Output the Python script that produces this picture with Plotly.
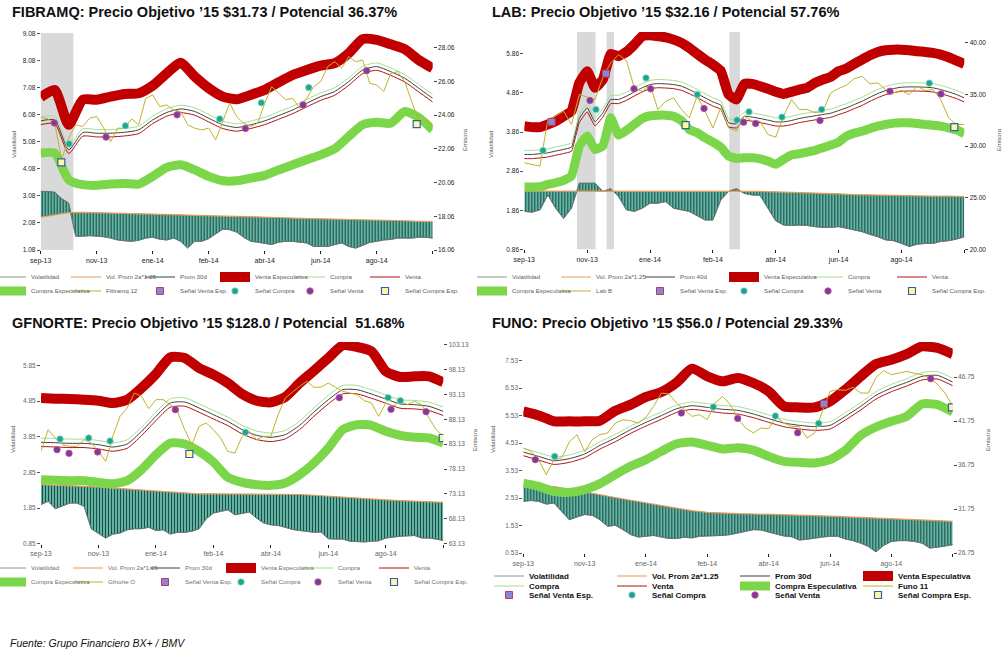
import plotly.graph_objects as go

W, H = 1007, 651
FONT = "Liberation Sans, Arial, sans-serif"

# ---------------- common x grid (weeks from sep-13) ----------------
semanas = list(range(57))
quincenas = list(range(0, 57, 2))
ticks_x = [0, 8, 16, 24, 32, 40, 48, 56]
etiquetas_x = ["sep-13", "nov-13", "ene-14", "feb-14", "abr-14", "jun-14", "ago-14", ""]

# ---------------- FIBRAMQ ----------------
fibramq_precio = [23.91, 23.83, 23.57, 21.41, 22.69, 23.48, 23.38, 23.87, 23.97, 23.28,
                  22.49, 23.28, 23.28, 23.83, 23.48, 25.05, 25.25, 24.56, 24.66, 24.36,
                  24.27, 23.48, 23.28, 23.18, 23.28, 22.59, 23.67, 24.76, 23.97, 23.57,
                  23.38, 23.57, 24.76, 25.74, 25.35, 24.96, 25.05, 24.46, 25.05, 25.74,
                  26.04, 26.93, 27.22, 26.83, 27.52, 27.22, 27.32, 25.94, 25.84, 25.45,
                  26.53, 26.63, 26.04, 24.86, 23.67, 23.77, 23.38]
fibramq_vol = [3.24, 3.24, 3.21, 2.97, 2.81, 1.59, 1.59, 1.61, 1.59, 1.57,
               1.52, 1.45, 1.42, 1.40, 1.44, 1.52, 1.55, 1.48, 1.45, 1.52,
               1.40, 1.15, 1.40, 1.40, 1.50, 1.67, 1.85, 1.83, 1.74, 1.55,
               1.40, 1.37, 1.33, 1.28, 1.37, 1.40, 1.40, 1.37, 1.34, 1.21,
               1.21, 1.21, 1.28, 1.34, 1.21, 1.15, 1.25, 1.36, 1.40, 1.45,
               1.47, 1.52, 1.52, 1.52, 1.55, 1.55, 1.52]
fibramq_vol_prom = [2.29, 2.37, 2.46, 2.47, 2.46, 2.45, 2.43, 2.42, 2.40, 2.39, 2.38, 2.36, 2.35, 2.33, 2.32,
                    2.30, 2.29, 2.28, 2.26, 2.25, 2.23, 2.22, 2.21, 2.20, 2.18, 2.17, 2.16, 2.14, 2.13]
fibramq_venta_esp = [25.11, 25.55, 23.48, 24.96, 24.96, 25.15, 25.31, 25.35, 25.80, 26.53, 27.16, 26.34, 25.65, 25.15, 24.99,
                     25.25, 25.55, 26.00, 26.43, 26.73, 26.99, 27.13, 27.72, 28.56, 28.51, 28.25, 27.97, 27.32, 26.83]
fibramq_compra_esp = [21.80, 21.80, 20.22, 19.93, 19.89, 19.97, 20.00, 19.97, 20.42, 20.95, 21.11, 20.81, 20.42, 20.16, 20.16,
                      20.32, 20.48, 20.81, 21.11, 21.41, 21.70, 22.06, 22.79, 23.48, 23.63, 23.57, 24.27, 23.91, 23.18]
fibramq_prom = [23.71, 23.77, 22.00, 23.02, 22.98, 22.98, 23.04, 23.18, 23.77, 24.21, 24.42, 24.27, 23.87, 23.48, 23.32,
                23.48, 23.71, 24.03, 24.36, 24.76, 25.15, 25.45, 26.04, 26.73, 26.93, 26.63, 26.24, 25.65, 25.05]
fibramq_compra = [23.93, 23.99, 22.22, 23.24, 23.20, 23.20, 23.26, 23.40, 23.99, 24.43, 24.64, 24.49, 24.09, 23.70, 23.54,
                  23.70, 23.93, 24.25, 24.58, 24.98, 25.37, 25.67, 26.26, 26.95, 27.15, 26.85, 26.46, 25.87, 25.27]
fibramq_venta = [23.49, 23.55, 21.78, 22.80, 22.76, 22.76, 22.82, 22.96, 23.55, 23.99, 24.20, 24.05, 23.65, 23.26, 23.10,
                 23.26, 23.49, 23.81, 24.14, 24.54, 24.93, 25.23, 25.82, 26.51, 26.71, 26.41, 26.02, 25.43, 24.83]
fibramq_senal_venta_sem = [1.95, 9.33, 19.48, 29.24, 37.48, 46.57]
fibramq_senal_venta_val = [23.59, 22.75, 24.07, 23.26, 24.66, 26.69]
fibramq_senal_compra_sem = [4.05, 12.1, 25.57, 31.52, 38.29]
fibramq_senal_compra_val = [22.35, 23.42, 23.83, 24.78, 25.69]
fibramq_senal_cesp_sem = [2.95, 53.71]
fibramq_senal_cesp_val = [21.25, 23.52]
fibramq_senal_vesp_sem = []
fibramq_senal_vesp_val = []
fibramq_periodos = [(0, 4.67)]

# ---------------- LAB ----------------
lab_precio = [28.39, 28.23, 28.06, 32.58, 32.90, 33.39, 32.10, 35.00, 34.74, 34.52,
              36.68, 38.06, 38.87, 38.29, 35.65, 35.32, 35.97, 33.55, 34.35, 34.68,
              33.55, 32.74, 34.84, 33.39, 31.77, 33.71, 31.77, 31.45, 32.90, 32.42,
              32.42, 31.13, 30.87, 32.90, 34.52, 33.55, 33.55, 33.23, 33.39, 35.16,
              35.58, 35.90, 36.55, 36.77, 36.03, 36.13, 35.48, 35.16, 35.39, 35.00,
              35.81, 35.39, 35.48, 34.52, 32.74, 32.10, 32.10]
lab_vol = [1.83, 1.81, 1.87, 2.25, 1.91, 1.65, 1.91, 2.55, 2.55, 2.55,
           2.34, 2.41, 2.21, 1.87, 1.83, 1.91, 2.04, 2.04, 2.08, 1.91,
           1.87, 1.83, 1.72, 1.61, 1.61, 2.12, 2.34, 2.41, 2.29, 2.25,
           2.24, 1.91, 1.59, 1.48, 1.47, 1.48, 1.47, 1.44, 1.42, 1.42,
           1.44, 1.40, 1.35, 1.31, 1.24, 1.18, 1.10, 1.08, 1.01, 0.93,
           0.99, 1.01, 1.01, 1.06, 1.08, 1.12, 1.18]
lab_vol_prom = [2.35, 2.35, 2.35, 2.35, 2.35, 2.35, 2.35, 2.35, 2.34, 2.34, 2.34, 2.34, 2.34, 2.34, 2.34,
                2.34, 2.33, 2.32, 2.31, 2.30, 2.28, 2.26, 2.25, 2.24, 2.23, 2.23, 2.22, 2.22, 2.21]
lab_venta_esp = [31.94, 31.84, 31.84, 32.10, 32.42, 32.90, 33.39, 36.13, 37.26, 35.65,
                 36.45, 38.94, 38.71, 39.13, 39.84, 40.65, 40.74, 40.65, 40.55, 40.32,
                 40.00, 39.52, 38.94, 38.39, 37.90, 37.32, 35.00, 34.52, 36.03, 36.03,
                 35.81, 35.55, 35.26, 35.06, 35.26, 35.48, 35.65, 36.13, 36.45, 36.71,
                 37.26, 37.52, 37.97, 38.39, 38.81, 39.13, 39.29, 39.35, 39.35, 39.29,
                 39.19, 39.13, 39.03, 38.87, 38.61, 38.29, 37.97]
lab_compra_esp = [26.03, 26.03, 26.06, 26.29, 26.45, 26.68, 27.10, 30.00, 30.97, 29.68,
                  30.00, 32.74, 31.06, 31.52, 32.10, 32.68, 32.94, 33.00, 33.00, 32.90,
                  32.48, 31.61, 31.29, 30.81, 30.39, 29.90, 29.03, 28.81, 28.87, 28.87,
                  28.77, 28.55, 28.23, 28.71, 29.13, 29.26, 29.42, 29.58, 29.84, 30.10,
                  30.39, 30.97, 31.26, 31.45, 31.71, 31.94, 32.10, 32.23, 32.26, 32.26,
                  32.19, 32.10, 32.03, 31.94, 31.77, 31.58, 31.19]
lab_prom = [29.19, 29.19, 29.26, 29.35, 29.52, 29.68, 29.90, 32.68, 33.71, 32.35,
            33.23, 34.52, 34.52, 34.84, 35.26, 35.65, 35.97, 36.06, 36.03, 35.97,
            35.81, 35.48, 35.10, 34.68, 34.29, 33.97, 32.26, 32.16, 32.90, 32.81,
            32.68, 32.52, 32.35, 32.35, 32.48, 32.68, 32.81, 32.94, 33.06, 33.19,
            33.45, 33.71, 34.03, 34.35, 34.74, 35.10, 35.39, 35.58, 35.71, 35.74,
            35.74, 35.71, 35.65, 35.48, 35.26, 35.00, 34.68]
lab_compra = [29.59, 29.59, 29.66, 29.75, 29.92, 30.08, 30.30, 33.08, 34.11, 32.75,
              33.63, 34.92, 34.92, 35.24, 35.66, 36.05, 36.37, 36.46, 36.43, 36.37,
              36.21, 35.88, 35.50, 35.08, 34.69, 34.37, 32.66, 32.56, 33.30, 33.21,
              33.08, 32.92, 32.75, 32.75, 32.88, 33.08, 33.21, 33.34, 33.46, 33.59,
              33.85, 34.11, 34.43, 34.75, 35.14, 35.50, 35.79, 35.98, 36.11, 36.14,
              36.14, 36.11, 36.05, 35.88, 35.66, 35.40, 35.08]
lab_venta = [28.79, 28.79, 28.86, 28.95, 29.12, 29.28, 29.50, 32.28, 33.31, 31.95,
             32.83, 34.12, 34.12, 34.44, 34.86, 35.25, 35.57, 35.66, 35.63, 35.57,
             35.41, 35.08, 34.70, 34.28, 33.89, 33.57, 31.86, 31.76, 32.50, 32.41,
             32.28, 32.12, 31.95, 31.95, 32.08, 32.28, 32.41, 32.54, 32.66, 32.79,
             33.05, 33.31, 33.63, 33.95, 34.34, 34.70, 34.99, 35.18, 35.31, 35.34,
             35.34, 35.31, 35.25, 35.08, 34.86, 34.60, 34.28]
lab_senal_compra_sem = [2.38, 9.12, 15.49, 22.02, 27.07, 28.60, 32.80, 37.84, 51.55]
lab_senal_compra_val = [29.58, 33.55, 36.61, 35.00, 32.52, 33.32, 32.81, 33.55, 36.10]
lab_senal_venta_sem = [8.36, 13.96, 16.08, 22.87, 27.92, 29.44, 37.63, 46.54, 53.03]
lab_senal_venta_val = [34.42, 35.55, 35.55, 33.65, 32.32, 32.19, 32.48, 35.32, 35.06]
lab_senal_vesp_sem = [3.48, 10.39]
lab_senal_vesp_val = [32.35, 37.03]
lab_senal_cesp_sem = [20.53, 54.73]
lab_senal_cesp_val = [32.03, 31.84]
lab_periodos = [(6.70, 9.08), (10.48, 11.41), (26.09, 27.45)]

# ---------------- GFNORTE ----------------
gfnorte_precio = [81.68, 86.04, 84.36, 83.02, 82.69, 82.69, 84.03, 83.36, 81.68, 79.67,
                  84.70, 88.72, 90.39, 93.40, 92.74, 90.26, 92.07, 92.07, 91.06, 89.72,
                  86.04, 83.02, 86.71, 87.38, 86.04, 84.36, 81.68, 81.35, 84.70, 85.70,
                  84.03, 84.70, 84.70, 89.05, 92.40, 93.61, 94.74, 95.75, 94.54, 94.61,
                  95.41, 94.54, 93.74, 93.40, 93.07, 91.86, 91.40, 88.72, 91.40, 90.73,
                  91.73, 91.06, 91.73, 91.06, 88.38, 86.04, 84.70]
gfnorte_vol = [1.95, 2.04, 1.83, 1.90, 1.99, 1.99, 1.90, 1.27, 1.15, 1.01,
               1.12, 1.15, 1.24, 1.27, 1.27, 1.31, 1.22, 1.24, 1.12, 1.17,
               1.17, 1.20, 1.27, 1.55, 1.71, 1.76, 1.80, 1.66, 1.70, 1.74,
               1.57, 1.43, 1.38, 1.36, 1.31, 1.25, 1.22, 1.20, 1.17, 1.18,
               0.99, 0.98, 0.98, 0.92, 0.91, 0.90, 0.92, 0.93, 1.01, 1.04,
               1.06, 1.07, 1.08, 1.01, 1.01, 0.98, 0.94]
gfnorte_vol_prom = [2.51, 2.50, 2.48, 2.46, 2.44, 2.41, 2.39, 2.36, 2.33, 2.29, 2.26, 2.25, 2.25, 2.25, 2.25,
                    2.25, 2.25, 2.24, 2.23, 2.21, 2.18, 2.16, 2.13, 2.10, 2.08, 2.06, 2.04, 2.03, 2.01]
gfnorte_venta_esp = [92.40, 92.27, 92.20, 92.07, 91.86, 91.40, 92.07, 94.41, 97.22, 100.57, 100.44, 98.43, 97.09, 95.41, 93.20,
                     91.86, 91.53, 92.61, 95.41, 97.89, 100.44, 102.98, 102.65, 101.78, 97.76, 96.62, 96.75, 96.75, 95.55]
gfnorte_compra_esp = [75.99, 75.86, 75.79, 75.79, 75.45, 75.19, 75.79, 78.00, 81.01, 83.36, 83.16, 81.68, 79.54, 76.46, 75.45,
                      74.99, 74.85, 75.32, 76.99, 79.34, 82.35, 86.04, 87.04, 86.91, 85.70, 84.90, 84.50, 84.36, 83.36]
gfnorte_prom = [83.49, 83.42, 83.29, 83.29, 83.02, 82.55, 83.16, 85.70, 88.72, 91.40, 91.60, 90.39, 89.05, 87.71, 86.04,
                84.90, 84.50, 85.03, 86.91, 89.59, 92.07, 94.07, 94.07, 93.20, 92.20, 91.19, 91.06, 90.73, 89.72]
gfnorte_compra = [84.34, 84.27, 84.14, 84.14, 83.87, 83.40, 84.01, 86.55, 89.57, 92.25, 92.45, 91.24, 89.90, 88.56, 86.89,
                  85.75, 85.35, 85.88, 87.76, 90.44, 92.92, 94.92, 94.92, 94.05, 93.05, 92.04, 91.91, 91.58, 90.57]
gfnorte_venta = [82.64, 82.57, 82.44, 82.44, 82.17, 81.70, 82.31, 84.85, 87.87, 90.55, 90.75, 89.54, 88.20, 86.86, 85.19,
                 84.05, 83.65, 84.18, 86.06, 88.74, 91.22, 93.22, 93.22, 92.35, 91.35, 90.34, 90.21, 89.88, 88.87]
gfnorte_senal_compra_sem = [2.65, 6.64, 9.61, 28.45, 48.31, 50.02]
gfnorte_senal_compra_val = [84.16, 84.36, 83.76, 85.50, 92.47, 91.86]
gfnorte_senal_venta_sem = [2.23, 3.90, 7.89, 18.70, 41.53, 48.72, 53.60]
gfnorte_senal_venta_val = [82.02, 81.28, 81.55, 90.06, 92.47, 90.12, 89.65]
gfnorte_senal_cesp_sem = [20.65, 55.92]
gfnorte_senal_cesp_val = [81.15, 84.36]
gfnorte_senal_vesp_sem = []
gfnorte_senal_vesp_val = []
gfnorte_periodos = []

# ---------------- FUNO ----------------
funo_precio = [38.68, 38.30, 37.36, 35.65, 37.36, 37.55, 39.36, 40.20, 38.30, 39.63,
               40.20, 40.39, 41.52, 41.90, 41.79, 41.52, 42.17, 43.42, 44.93, 44.82,
               43.80, 43.04, 42.28, 42.47, 41.90, 43.80, 44.55, 43.61, 42.02, 40.95,
               40.39, 40.95, 40.88, 42.17, 41.52, 41.14, 41.14, 39.82, 40.39, 42.85,
               45.12, 45.31, 45.23, 45.58, 44.93, 44.93, 46.71, 47.47, 47.02, 47.20,
               47.39, 47.17, 47.02, 46.64, 45.95, 44.93, 43.42]
funo_vol = [2.41, 2.44, 2.41, 2.31, 2.35, 2.05, 1.74, 1.84, 1.93, 1.90,
            1.74, 1.50, 1.54, 1.38, 1.20, 1.11, 1.14, 1.17, 1.11, 1.06,
            1.06, 1.10, 1.08, 1.14, 1.15, 1.15, 1.17, 1.20, 1.25, 1.32,
            1.38, 1.37, 1.29, 1.22, 1.15, 1.12, 1.00, 1.03, 1.08, 1.11,
            1.14, 1.14, 1.04, 0.98, 0.89, 0.77, 0.57, 0.81, 0.95, 0.98,
            0.98, 0.95, 0.89, 0.71, 0.74, 0.78, 0.83]
funo_vol_prom = [2.92, 2.93, 2.95, 2.86, 2.75, 2.64, 2.55, 2.45, 2.36, 2.27, 2.17, 2.07, 2.01, 1.98, 1.96,
                 1.95, 1.94, 1.92, 1.91, 1.89, 1.87, 1.85, 1.83, 1.80, 1.78, 1.76, 1.73, 1.71, 1.68]
funo_venta_esp = [42.85, 42.39, 41.71, 41.71, 41.71, 41.79, 42.92, 43.61, 44.48, 45.05, 46.14, 47.70, 46.83, 46.26, 46.64,
                  46.07, 45.12, 43.42, 43.30, 43.30, 43.98, 45.31, 46.83, 48.23, 48.72, 49.36, 50.23, 50.05, 49.36]
funo_compra_esp = [34.70, 34.33, 33.76, 33.64, 33.95, 34.63, 35.65, 36.60, 37.36, 38.30, 39.17, 39.36, 38.98, 38.57, 38.72,
                   38.45, 37.73, 37.17, 37.05, 36.98, 37.36, 38.42, 40.12, 41.07, 41.71, 42.28, 43.68, 43.61, 42.77]
funo_prom = [38.23, 37.73, 37.24, 37.47, 38.00, 38.98, 39.82, 40.77, 41.60, 42.36, 43.15, 43.49, 43.30, 43.08, 42.96,
             42.55, 42.02, 41.52, 41.26, 41.11, 41.26, 42.28, 43.42, 44.67, 45.50, 46.14, 46.83, 46.94, 46.18]
funo_compra = [38.65, 38.15, 37.66, 37.89, 38.42, 39.40, 40.24, 41.19, 42.02, 42.78, 43.57, 43.91, 43.72, 43.50, 43.38,
               42.97, 42.44, 41.94, 41.68, 41.53, 41.68, 42.70, 43.84, 45.09, 45.92, 46.56, 47.25, 47.36, 46.60]
funo_venta = [37.81, 37.31, 36.82, 37.05, 37.58, 38.56, 39.40, 40.35, 41.18, 41.94, 42.73, 43.07, 42.88, 42.66, 42.54,
              42.13, 41.60, 41.10, 40.84, 40.69, 40.84, 41.86, 43.00, 44.25, 45.08, 45.72, 46.41, 46.52, 45.76]
funo_senal_venta_sem = [1.57, 20.61, 27.96, 35.78, 53.13]
funo_senal_venta_val = [37.36, 42.66, 42.05, 40.42, 46.56]
funo_senal_compra_sem = [4.09, 24.78, 32.87, 38.52]
funo_senal_compra_val = [37.73, 43.34, 42.32, 41.48]
funo_senal_vesp_sem = [39.22]
funo_senal_vesp_val = [43.72]
funo_senal_cesp_sem = [55.91]
funo_senal_cesp_val = [43.30]
funo_periodos = []

# ---------------- styles ----------------
C_VESP = "#C00000"
C_CESP = "#7CD64A"
C_COMPRA = "#A6DD8E"
C_VENTA = "#B40F0F"
C_PROM = "#3F3F3F"
C_PRECIO = "#BDB42A"
C_VOLPROM = "#E69B58"
C_VOLLINE = "#6F7A78"

fila6 = [["vol", "volprom", "prom", "vesp", "compra", "venta"],
         ["cesp", "precio", "svesp", "scompra", "sventa", "scesp"]]
fila4 = [["vol", "volprom", "prom", "vesp"],
         ["compra", "venta", "cesp", "precio"],
         ["svesp", "scompra", "sventa", "scesp"]]

paneles = [
    dict(titulo="FIBRAMQ: Precio Objetivo \u201915 $31.73 / Potencial 36.37%", tit_xy=(10, 12),
         precio_nom="Fibramq 12", prom_nom="Prom 30d",
         precio=fibramq_precio, vol=fibramq_vol, volprom=fibramq_vol_prom, vesp=fibramq_venta_esp,
         cesp=fibramq_compra_esp, prom=fibramq_prom, compra=fibramq_compra, venta=fibramq_venta,
         sv=(fibramq_senal_venta_sem, fibramq_senal_venta_val), sc=(fibramq_senal_compra_sem, fibramq_senal_compra_val),
         sve=(fibramq_senal_vesp_sem, fibramq_senal_vesp_val), sce=(fibramq_senal_cesp_sem, fibramq_senal_cesp_val),
         periodos=fibramq_periodos,
         caja=(40.7, 432.7, 33, 250), rl=[1.08, 9.09], rr=[16.06, 28.92],
         tl=[1.08, 2.08, 3.08, 4.08, 5.08, 6.08, 7.08, 8.08, 9.08],
         tr=[16.06, 18.06, 20.06, 22.06, 24.06, 26.06, 28.06],
         tickcol="#222222", vol_xy=(14, 145), emi_xy=(465, 140),
         filas=fila6, cols=[31, 106, 180, 255, 330, 405], ys=[277, 291],
         lfont=6.2, lcol="#606060", lweight="normal"),
    dict(titulo="LAB: Precio Objetivo \u201915 $32.16 / Potencial 57.76%", tit_xy=(490, 12),
         precio_nom="Lab B", prom_nom="Prom 40d",
         precio=lab_precio, vol=lab_vol, volprom=lab_vol_prom, vesp=lab_venta_esp,
         cesp=lab_compra_esp, prom=lab_prom, compra=lab_compra, venta=lab_venta,
         sv=(lab_senal_venta_sem, lab_senal_venta_val), sc=(lab_senal_compra_sem, lab_senal_compra_val),
         sve=(lab_senal_vesp_sem, lab_senal_vesp_val), sce=(lab_senal_cesp_sem, lab_senal_cesp_val),
         periodos=lab_periodos,
         caja=(524.3, 964.3, 32, 249.3), rl=[0.86, 6.42], rr=[20.0, 41.06],
         tl=[0.86, 1.86, 2.86, 3.86, 4.86, 5.86],
         tr=[20.0, 25.0, 30.0, 35.0, 40.0],
         tickcol="#222222", vol_xy=(491, 145), emi_xy=(999, 140),
         filas=fila6, cols=[512, 596, 680, 764, 848, 932], ys=[277, 291],
         lfont=6.2, lcol="#606060", lweight="normal"),
    dict(titulo="GFNORTE: Precio Objetivo \u201915 $128.0 / Potencial  51.68%", tit_xy=(10, 323),
         precio_nom="Gfnorte O", prom_nom="Prom 30d",
         precio=gfnorte_precio, vol=gfnorte_vol, volprom=gfnorte_vol_prom, vesp=gfnorte_venta_esp,
         cesp=gfnorte_compra_esp, prom=gfnorte_prom, compra=gfnorte_compra, venta=gfnorte_venta,
         sv=(gfnorte_senal_venta_sem, gfnorte_senal_venta_val), sc=(gfnorte_senal_compra_sem, gfnorte_senal_compra_val),
         sve=(gfnorte_senal_vesp_sem, gfnorte_senal_vesp_val), sce=(gfnorte_senal_cesp_sem, gfnorte_senal_cesp_val),
         periodos=gfnorte_periodos,
         caja=(41, 443.3, 342, 543.7), rl=[0.85, 6.51], rr=[63.13, 103.65],
         tl=[0.85, 1.85, 2.85, 3.85, 4.85, 5.85],
         tr=[63.13, 68.13, 73.13, 78.13, 83.13, 88.13, 93.13, 98.13, 103.13],
         tickcol="#666666", vol_xy=(13, 440), emi_xy=(475, 440),
         filas=fila6, cols=[31, 108, 185, 261, 338, 414], ys=[568, 582],
         lfont=6.2, lcol="#707070", lweight="normal"),
    dict(titulo="FUNO: Precio Objetivo \u201915 $56.0 / Potencial 29.33%", tit_xy=(490, 323),
         precio_nom="Funo 11", prom_nom="Prom 30d",
         precio=funo_precio, vol=funo_vol, volprom=funo_vol_prom, vesp=funo_venta_esp,
         cesp=funo_compra_esp, prom=funo_prom, compra=funo_compra, venta=funo_venta,
         sv=(funo_senal_venta_sem, funo_senal_venta_val), sc=(funo_senal_compra_sem, funo_senal_compra_val),
         sve=(funo_senal_vesp_sem, funo_senal_vesp_val), sce=(funo_senal_cesp_sem, funo_senal_cesp_val),
         periodos=funo_periodos,
         caja=(523.3, 952.7, 342, 553), rl=[0.53, 8.21], rr=[26.75, 50.73],
         tl=[0.53, 1.53, 2.53, 3.53, 4.53, 5.53, 6.53, 7.53],
         tr=[26.75, 31.75, 36.75, 41.75, 46.75],
         tickcol="#666666", vol_xy=(493, 440), emi_xy=(988, 440),
         filas=fila4, cols=[529, 652, 775, 898], ys=[576, 586, 595],
         lfont=8, lcol="#111111", lweight="bold"),
]

fig = go.Figure()
layout = {}
annotations = []
shapes = []
leg_count = [0]


def nueva_leyenda(xp, yp, size, color, weight):
    leg_count[0] += 1
    nombre = "legend" if leg_count[0] == 1 else "legend%d" % leg_count[0]
    layout[nombre] = dict(orientation="h", x=xp / W, y=1 - yp / H, xanchor="left", yanchor="middle",
                          xref="paper", yref="paper", bgcolor="rgba(0,0,0,0)", borderwidth=0,
                          itemwidth=30, tracegroupgap=0,
                          font=dict(family=FONT, size=size, color=color, weight=weight))
    return nombre


def suave(color, width, n):
    return dict(width=width, color=color, shape="spline", smoothing=0.6 if n < 57 else 0.35)


for n, p in enumerate(paneles, start=1):
    xa = "x" if n == 1 else "x%d" % n
    il, ir = 2 * n - 1, 2 * n
    yl = "y" if il == 1 else "y%d" % il
    yr = "y%d" % ir
    x0, x1, ytop, ybot = p["caja"]
    dx = [x0 / W, x1 / W]
    dy = [1 - ybot / H, 1 - ytop / H]

    leg = {}
    for fila, yp in zip(p["filas"], p["ys"]):
        for k, xt in zip(fila, p["cols"]):
            leg[k] = dict(legend=nueva_leyenda(xt - 40, yp, p["lfont"], p["lcol"], p["lweight"]))

    # price block (right axis); trace order chosen so legend texts sit above neighbouring legend keys,
    # drawing order inside the plot is set with zorder
    xs = semanas if len(p["vesp"]) == 57 else quincenas
    m = len(xs)
    fig.add_trace(go.Scatter(x=xs, y=p["compra"], xaxis=xa, yaxis=yr, mode="lines", name="Compra",
                             line=suave(C_COMPRA, 1, m), zorder=2, **leg["compra"]))
    fig.add_trace(go.Scatter(x=xs, y=p["vesp"], xaxis=xa, yaxis=yr, mode="lines", name="Venta Especulativa",
                             line=suave(C_VESP, 10, m), zorder=1, **leg["vesp"]))
    fig.add_trace(go.Scatter(x=semanas, y=p["precio"], xaxis=xa, yaxis=yr, mode="lines", name=p["precio_nom"],
                             line=dict(width=1, color=C_PRECIO), zorder=3, **leg["precio"]))
    fig.add_trace(go.Scatter(x=xs, y=p["cesp"], xaxis=xa, yaxis=yr, mode="lines", name="Compra Especulativa",
                             line=suave(C_CESP, 9, m), zorder=1, **leg["cesp"]))
    fig.add_trace(go.Scatter(x=xs, y=p["venta"], xaxis=xa, yaxis=yr, mode="lines", name="Venta",
                             line=suave(C_VENTA, 1, m), zorder=2, **leg["venta"]))
    fig.add_trace(go.Scatter(x=xs, y=p["prom"], xaxis=xa, yaxis=yr, mode="lines", name=p["prom_nom"],
                             line=suave(C_PROM, 1, m), zorder=2, **leg["prom"]))

    marcas = [
        ("sve", "svesp", "Se\u00f1al Venta Esp.", dict(symbol="square", size=7, color="#8E86CC",
                                                       line=dict(width=1, color="#B0406A"))),
        ("sc", "scompra", "Se\u00f1al Compra", dict(symbol="circle", size=6.5, color="#1FA48E",
                                                    line=dict(width=0.8, color="#8ADCCB"))),
        ("sv", "sventa", "Se\u00f1al Venta", dict(symbol="circle", size=6.5, color="#7A3C9E",
                                                  line=dict(width=0.8, color="#D0508A"))),
        ("sce", "scesp", "Se\u00f1al Compra Esp.", dict(symbol="square", size=7, color="#FFF8A0",
                                                        line=dict(width=1.2, color="#2F5FB0"))),
    ]
    for clave, lk, nombre, mk in marcas:
        sx, sy = p[clave]
        if len(sx) == 0:
            sx, sy = [None], [None]
        fig.add_trace(go.Scatter(x=sx, y=sy, xaxis=xa, yaxis=yr, mode="markers", name=nombre,
                                 marker=mk, cliponaxis=False, zorder=4, **leg[lk]))

    # volatility block (left axis)
    fig.add_trace(go.Scatter(x=quincenas, y=p["volprom"], xaxis=xa, yaxis=yl, mode="lines",
                             line=dict(width=0, color="rgba(0,0,0,0)"), showlegend=False, hoverinfo="skip"))
    fig.add_trace(go.Scatter(x=semanas, y=p["vol"], xaxis=xa, yaxis=yl, mode="lines", fill="tonexty",
                             fillcolor="#66BBAA",
                             fillpattern=dict(shape="|", size=3, solidity=0.38, fgcolor="#1E4C46",
                                              bgcolor="#66BBAA", fillmode="replace"),
                             line=dict(width=0.8, color="#2E5E57"), showlegend=False, hoverinfo="skip"))
    fig.add_trace(go.Scatter(x=semanas, y=p["vol"], xaxis=xa, yaxis=yl, mode="lines", name="Volatilidad",
                             line=dict(width=0.8, color=C_VOLLINE), **leg["vol"]))
    fig.add_trace(go.Scatter(x=quincenas, y=p["volprom"], xaxis=xa, yaxis=yl, mode="lines",
                             name="Vol. Prom 2a*1.25", line=dict(width=1.2, color=C_VOLPROM), **leg["volprom"]))

    for a, b in p["periodos"]:
        shapes.append(dict(type="rect", xref=xa, yref=yl + " domain", x0=a, x1=b, y0=0, y1=1,
                           fillcolor="#D9D9D9", line=dict(width=0), layer="below"))

    tickfont = dict(family=FONT, size=6.5, color=p["tickcol"])
    xkey = "xaxis" if n == 1 else "xaxis%d" % n
    ylkey = "yaxis" if il == 1 else "yaxis%d" % il
    yrkey = "yaxis%d" % ir
    layout[xkey] = dict(domain=dx, anchor=yl, range=[0, 56], tickmode="array", tickvals=ticks_x,
                        ticktext=etiquetas_x, showline=True, linecolor="#1A1A1A", linewidth=1.2,
                        ticks="outside", ticklen=3, tickcolor="#1A1A1A", showgrid=False, zeroline=False,
                        tickfont=dict(family=FONT, size=7, color=p["tickcol"]))
    layout[ylkey] = dict(domain=dy, anchor=xa, range=p["rl"], tickmode="array", tickvals=p["tl"],
                         ticktext=["%.2f" % v for v in p["tl"]], showline=True, linecolor="#555555",
                         linewidth=1, ticks="outside", ticklen=3, tickcolor="#555555", showgrid=False,
                         zeroline=False, tickfont=tickfont)
    layout[yrkey] = dict(overlaying=yl, side="right", anchor=xa, range=p["rr"], tickmode="array",
                         tickvals=p["tr"], ticktext=["%.2f" % v for v in p["tr"]], showline=True,
                         linecolor="#444444", linewidth=1.2, ticks="outside", ticklen=3, tickcolor="#444444",
                         showgrid=False, zeroline=False, tickfont=tickfont)

    annotations.append(dict(text="<b>%s</b>" % p["titulo"], x=p["tit_xy"][0] / W, y=1 - p["tit_xy"][1] / H,
                            xref="paper", yref="paper", xanchor="left", yanchor="middle", showarrow=False,
                            font=dict(family=FONT, size=14.5, color="#111111")))
    annotations.append(dict(text="Volatilidad", x=p["vol_xy"][0] / W, y=1 - p["vol_xy"][1] / H,
                            xref="paper", yref="paper", xanchor="center", yanchor="middle", showarrow=False,
                            textangle=-90, font=dict(family=FONT, size=6, color="#555555")))
    annotations.append(dict(text="Emisora", x=p["emi_xy"][0] / W, y=1 - p["emi_xy"][1] / H,
                            xref="paper", yref="paper", xanchor="center", yanchor="middle", showarrow=False,
                            textangle=-90, font=dict(family=FONT, size=6, color="#555555")))

annotations.append(dict(text="<i>Fuente: Grupo Financiero BX+ / BMV</i>", x=8 / W, y=1 - 643 / H,
                        xref="paper", yref="paper", xanchor="left", yanchor="middle", showarrow=False,
                        font=dict(family=FONT, size=10.5, color="#111111")))

fig.update_layout(width=W, height=H, margin=dict(l=0, r=0, t=0, b=0, autoexpand=False),
                  paper_bgcolor="white", plot_bgcolor="rgba(0,0,0,0)", showlegend=True,
                  annotations=annotations, shapes=shapes, hovermode=False, **layout)

fig.write_html("out.html")
